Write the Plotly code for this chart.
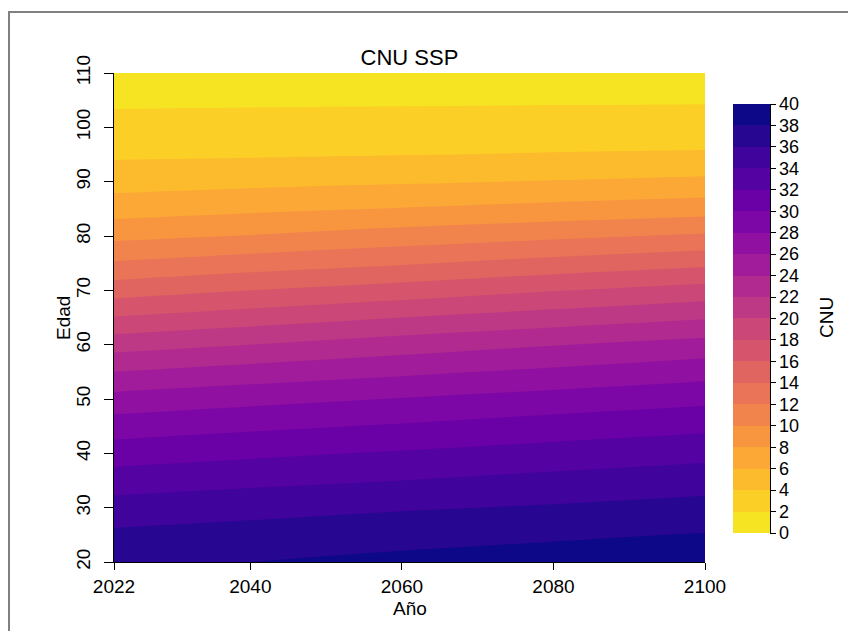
import plotly.graph_objects as go
from plotly.colors import sample_colorscale, sequential

# ---------------- data ----------------
years = [2022, 2040, 2060, 2080, 2100]
ages = [20, 25, 30, 35, 40, 45, 50, 55, 60, 65, 70, 75, 80, 85, 90, 95, 100, 105, 110]

cnu_2022 = [37.6, 36.4, 34.8, 33.0, 31.0, 29.0, 26.7, 24.0, 21.2, 18.1, 15.1, 12.2, 9.5, 7.1, 5.2, 3.7, 2.7, 1.66, 0.6]
cnu_2040 = [38.0, 36.8, 35.3, 33.5, 31.6, 29.6, 27.4, 24.8, 22.0, 19.0, 16.0, 13.0, 10.1, 7.6, 5.5, 3.8, 2.8, 1.70, 0.6]
cnu_2060 = [38.5, 37.3, 35.8, 34.0, 32.2, 30.2, 28.1, 25.6, 23.0, 20.0, 16.9, 13.8, 10.9, 8.1, 5.8, 3.95, 2.85, 1.75, 0.6]
cnu_2080 = [38.9, 37.7, 36.2, 34.6, 32.8, 30.9, 28.8, 26.4, 23.9, 20.9, 17.9, 14.7, 11.6, 8.6, 6.1, 4.1, 2.9, 1.80, 0.6]
cnu_2100 = [39.2, 38.1, 36.7, 35.1, 33.4, 31.5, 29.5, 27.2, 24.75, 21.8, 18.8, 15.55, 12.3, 9.1, 6.45, 4.2, 2.98, 1.83, 0.6]

x_ticks = [2022, 2040, 2060, 2080, 2100]
y_ticks = [20, 30, 40, 50, 60, 70, 80, 90, 100, 110]
cb_ticks = list(range(0, 41, 2))

# ---------------- build ----------------
columns = [cnu_2022, cnu_2040, cnu_2060, cnu_2080, cnu_2100]
z = [[col[i] for col in columns] for i in range(len(ages))]

n_bands = 20
T_MAX = 0.95
cols = sample_colorscale(sequential.Plasma, [T_MAX * k / (n_bands - 1) for k in range(n_bands)])
cols = cols[::-1]  # yellow (low) -> navy (high)
stepped = []
for k, c in enumerate(cols):
    stepped.append([k / n_bands, c])
    stepped.append([(k + 1) / n_bands, c])

FONT = "Liberation Sans, Arial, sans-serif"
FS = 19

OFF = 8  # default page margin of the html body
W, H = 848, 623
L, T = 106, 65
pw, ph = 591, 489
R, B = W - L - pw, H - T - ph


def px_x(p):  # page pixel -> paper x
    return (p - OFF - L) / pw


def px_y(p):  # page pixel -> paper y
    return (T + ph + OFF - p) / ph


fig = go.Figure()
fig.add_trace(go.Contour(
    x=years, y=ages, z=z,
    colorscale=stepped,
    contours=dict(start=0, end=40, size=2, coloring="fill", showlines=False),
    line=dict(width=0),
    showscale=False,
    hoverinfo="skip",
))

# colour key (legend device only)
fig.add_trace(go.Scatter(
    x=[years[0], years[0]], y=[ages[0], ages[0]], mode="markers",
    marker=dict(
        size=0.1, opacity=0, color=[0, 40], cmin=0, cmax=40, colorscale=stepped,
        showscale=True,
        colorbar=dict(
            thickness=37, thicknessmode="pixels",
            len=429, lenmode="pixels",
            x=px_x(733), xanchor="left",
            y=px_y(318.5), yanchor="middle",
            xpad=0, ypad=0, outlinewidth=0,
            tickvals=cb_ticks, ticks="outside", ticklen=6, tickcolor="black",
            tickprefix="\u00a0",
            tickfont=dict(family=FONT, size=18, color="black"),
        ),
    ),
    hoverinfo="skip", showlegend=False,
))

axis_common = dict(
    showgrid=False, zeroline=False, showline=True, linecolor="black", linewidth=1,
    ticks="outside", tickcolor="black", mirror=False,
    tickfont=dict(family=FONT, size=FS, color="black"),
)

fig.update_layout(
    width=W, height=H,
    margin=dict(l=L, r=R, t=T, b=B, autoexpand=False),
    paper_bgcolor="white", plot_bgcolor="white",
    showlegend=False,
    font=dict(family=FONT, size=FS, color="black"),
    title=dict(text="CNU SSP", x=0.5, xref="paper", xanchor="center",
               y=1 - (57 - OFF) / H, yanchor="middle",
               font=dict(family=FONT, size=22, color="black")),
    xaxis=dict(range=[2022, 2100], tickvals=x_ticks, ticklen=7, **axis_common),
    yaxis=dict(range=[20, 110], tickvals=y_ticks, tickangle=-90, ticklen=9,
               ticklabelstandoff=6, **axis_common),
    annotations=[
        dict(text="Año", x=0.5, y=px_y(608), xref="paper", yref="paper",
             showarrow=False, xanchor="center", yanchor="middle",
             font=dict(family=FONT, size=FS, color="black")),
        dict(text="Edad", x=px_x(63), y=px_y(318), xref="paper", yref="paper",
             showarrow=False, textangle=-90, xanchor="center", yanchor="middle",
             font=dict(family=FONT, size=FS, color="black")),
        dict(text="CNU", x=px_x(826), y=px_y(318), xref="paper", yref="paper",
             showarrow=False, textangle=-90, xanchor="center", yanchor="middle",
             font=dict(family=FONT, size=FS, color="black")),
    ],
    shapes=[
        dict(type="rect", xref="paper", yref="paper",
             x0=px_x(9), x1=px_x(W + 40), y0=px_y(H + 40), y1=px_y(12),
             line=dict(color="#808080", width=2), fillcolor="rgba(0,0,0,0)", layer="above"),
        dict(type="line", xref="paper", yref="paper",
             x0=px_x(770.5), x1=px_x(770.5), y0=px_y(533), y1=px_y(104),
             line=dict(color="black", width=1), layer="above"),
    ],
)

fig.write_html("out.html")
